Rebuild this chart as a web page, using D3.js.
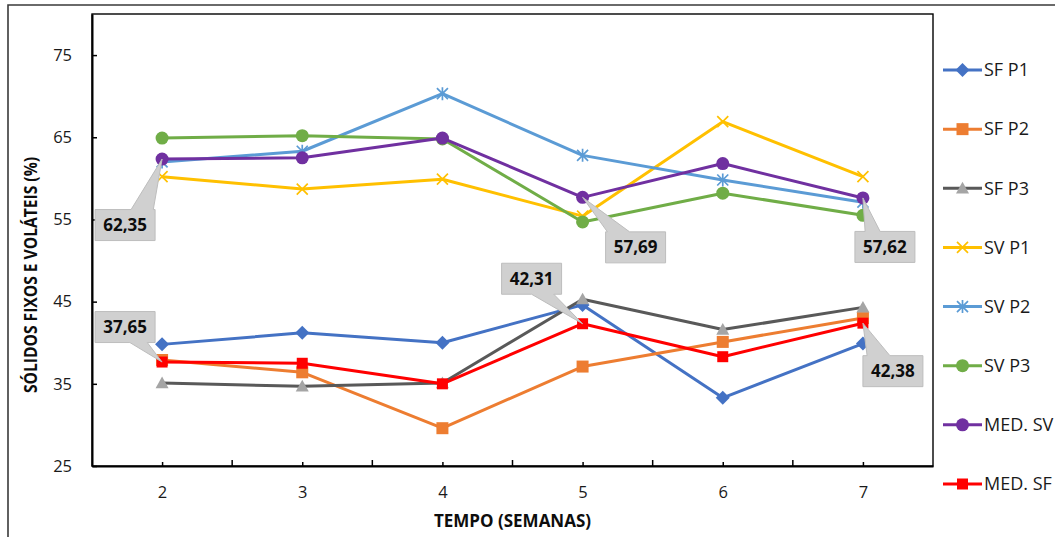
<!DOCTYPE html>
<html>
<head>
<meta charset="utf-8">
<script src="https://cdn.jsdelivr.net/npm/d3@7"></script>
<style>
    body { margin: 0; background: #fff; }
    svg { display: block; }
    text { font-family: "Open Sans", sans-serif; }
</style>
</head>
<body>
<svg id="chart" width="1055" height="537"></svg>
<script>
// values (weeks 2..7)
var weeks = ['2', '3', '4', '5', '6', '7'];
var seriesNames = ['SF P1', 'SF P2', 'SF P3', 'SV P1', 'SV P2', 'SV P3', 'MED. SV', 'MED. SF'];
var sfP1 = [39.8, 41.2, 40.0, 44.6, 33.3, 39.9];
var sfP2 = [37.9, 36.4, 29.6, 37.1, 40.1, 43.0];
var sfP3 = [35.1, 34.7, 35.1, 45.3, 41.6, 44.3];
var svP1 = [60.2, 58.7, 59.9, 55.4, 66.9, 60.2];
var svP2 = [62.0, 63.3, 70.3, 62.8, 59.8, 57.1];
var svP3 = [64.9, 65.2, 64.8, 54.7, 58.2, 55.5];
var medSV = [62.35, 62.5, 64.9, 57.69, 61.8, 57.62];
var medSF = [37.65, 37.5, 35.0, 42.31, 38.3, 42.38];
var yTicks = [25, 35, 45, 55, 65, 75];
var yTitle = 'SÓLIDOS FIXOS E VOLÁTEIS (%)';
var xTitle = 'TEMPO (SEMANAS)';
// which points get a data callout: [series, week]
var labelled = [['MED. SV', '2'], ['MED. SF', '2'], ['MED. SF', '5'],
                ['MED. SV', '5'], ['MED. SV', '7'], ['MED. SF', '7']];

var seriesValues = [sfP1, sfP2, sfP3, svP1, svP2, svP3, medSV, medSF];

// styles
var styles = {
    'SF P1':   {line: '#4472C4', fill: '#4472C4', marker: 'diamond', size: 7},
    'SF P2':   {line: '#ED7D31', fill: '#ED7D31', marker: 'square', size: 6},
    'SF P3':   {line: '#595959', fill: '#A5A5A5', marker: 'triangle', size: 6.5},
    'SV P1':   {line: '#FFC000', fill: '#FFC000', marker: 'x', size: 5.5},
    'SV P2':   {line: '#5B9BD5', fill: '#5B9BD5', marker: 'star', size: 5.5},
    'SV P3':   {line: '#70AD47', fill: '#70AD47', marker: 'circle', size: 6.5},
    'MED. SV': {line: '#7030A0', fill: '#7030A0', marker: 'circle', size: 6.5},
    'MED. SF': {line: '#FF0000', fill: '#FF0000', marker: 'square', size: 5.5}
};
// callout box offsets from the point, edge where the pointer leaves, pointer base as fraction of width
var calloutLayout = [
    {dx: -37, dy: 66, edge: 'top', base: [0.6, 0.97]},
    {dx: -37, dy: -35, edge: 'bottom', base: [0.58, 0.87]},
    {dx: -51, dy: -45, edge: 'bottom', base: [0.5, 0.87]},
    {dx: 53, dy: 50, edge: 'top', base: [0.03, 0.4]},
    {dx: 22, dy: 49, edge: 'top', base: [0.17, 0.42]},
    {dx: 30, dy: 48, edge: 'top', base: [0.07, 0.45]}
];

var svg = d3.select('#chart');
var pLeft = 92, pRight = 933, pTop = 14, pBottom = 466;

var x = d3.scalePoint().domain(weeks).range([pLeft, pRight]).padding(0.5);
var xBand = d3.scaleBand().domain(weeks).range([pLeft, pRight]);
var y = d3.scaleLinear().domain([25, 80]).range([pBottom, pTop]);

var commaFmt = d3.formatLocale({decimal: ',', thousands: '.', grouping: [3], currency: ['', '']}).format('.2f');

// outer frame of the figure
svg.append('path')
    .attr('d', 'M8,537V5H1055')
    .attr('fill', 'none')
    .attr('stroke', '#3a3a3a')
    .attr('stroke-width', 1.6);

// plot area box
svg.append('rect')
    .attr('x', pLeft).attr('y', pTop)
    .attr('width', pRight - pLeft).attr('height', pBottom - pTop)
    .attr('fill', 'none')
    .attr('stroke', '#000')
    .attr('stroke-width', 1.4);

// y axis
var yAxis = svg.append('g')
    .attr('transform', 'translate(' + pLeft + ',0)')
    .call(d3.axisLeft(y).tickValues(yTicks).tickSizeInner(-5).tickSizeOuter(0).tickPadding(20));
yAxis.select('.domain').attr('stroke', '#000').attr('stroke-width', 2);
yAxis.selectAll('.tick line').attr('stroke', '#000').attr('stroke-width', 1.5);
yAxis.selectAll('text').attr('font-size', 16.5).attr('fill', '#1a1a1a')
    .style('font-family', '"Open Sans", sans-serif');

// x axis: short ticks at categories, longer ticks at category boundaries
var xAxis = svg.append('g')
    .attr('transform', 'translate(0,' + pBottom + ')')
    .call(d3.axisBottom(x).tickSizeInner(-4).tickSizeOuter(0).tickPadding(20));
xAxis.select('.domain').attr('stroke', '#000').attr('stroke-width', 2);
xAxis.selectAll('.tick line').attr('stroke', '#000').attr('stroke-width', 1.5);
xAxis.selectAll('text').attr('font-size', 16.5).attr('fill', '#1a1a1a')
    .style('font-family', '"Open Sans", sans-serif');

var bounds = weeks.slice(1).map(function(w) { return xBand(w); });
svg.append('g').selectAll('line')
    .data(bounds)
    .enter()
    .append('line')
    .attr('x1', function(d) { return d; })
    .attr('x2', function(d) { return d; })
    .attr('y1', pBottom)
    .attr('y2', pBottom - 6)
    .attr('stroke', '#000')
    .attr('stroke-width', 1.5);

// axis titles
svg.append('text')
    .attr('x', (pLeft + pRight) / 2)
    .attr('y', 527)
    .attr('text-anchor', 'middle')
    .attr('font-size', 17)
    .attr('font-weight', 'bold')
    .attr('fill', '#0d0d0d')
    .text(xTitle);

svg.append('text')
    .attr('transform', 'translate(37,275) rotate(-90)')
    .attr('text-anchor', 'middle')
    .attr('font-size', 17)
    .attr('font-weight', 'bold')
    .attr('fill', '#0d0d0d')
    .attr('textLength', 236)
    .attr('lengthAdjust', 'spacingAndGlyphs')
    .text(yTitle);

// marker shapes
function markerPath(type, s) {
    if (type === 'diamond') return 'M0,' + (-s) + 'L' + s + ',0L0,' + s + 'L' + (-s) + ',0Z';
    if (type === 'square') return 'M' + (-s) + ',' + (-s) + 'H' + s + 'V' + s + 'H' + (-s) + 'Z';
    if (type === 'triangle') return 'M0,' + (-s) + 'L' + s + ',' + (s * 0.8) + 'H' + (-s) + 'Z';
    if (type === 'circle') return d3.symbol().type(d3.symbolCircle).size(Math.PI * s * s)();
    if (type === 'x') return 'M' + (-s) + ',' + (-s) + 'L' + s + ',' + s + 'M' + s + ',' + (-s) + 'L' + (-s) + ',' + s;
    if (type === 'star') return 'M' + (-s) + ',' + (-s) + 'L' + s + ',' + s + 'M' + s + ',' + (-s) + 'L' + (-s) + ',' + s + 'M0,' + (-s - 1) + 'V' + (s + 1);
}
function drawMarker(g, st, cx, cy) {
    var open = st.marker === 'x' || st.marker === 'star';
    g.append('path')
        .attr('d', markerPath(st.marker, st.size))
        .attr('transform', 'translate(' + cx + ',' + cy + ')')
        .attr('fill', open ? 'none' : st.fill)
        .attr('stroke', open ? st.fill : 'none')
        .attr('stroke-width', open ? 1.7 : 0);
}

var line = d3.line()
    .x(function(d, i) { return x(weeks[i]); })
    .y(function(d) { return y(d); });

// series, drawn in order so the means sit on top
seriesNames.forEach(function(name, k) {
    var st = styles[name];
    var g = svg.append('g');
    g.append('path')
        .datum(seriesValues[k])
        .attr('d', line)
        .attr('fill', 'none')
        .attr('stroke', st.line)
        .attr('stroke-width', 3)
        .attr('stroke-linejoin', 'round');
    seriesValues[k].forEach(function(v, i) {
        drawMarker(g, st, x(weeks[i]), y(v));
    });
});

// legend
var legendY = d3.scalePoint().domain(seriesNames).range([70, 484]);
seriesNames.forEach(function(name) {
    var st = styles[name];
    var g = svg.append('g');
    var ly = legendY(name);
    g.append('line')
        .attr('x1', 943).attr('x2', 982)
        .attr('y1', ly).attr('y2', ly)
        .attr('stroke', st.line)
        .attr('stroke-width', 3);
    drawMarker(g, st, 962.5, ly);
    g.append('text')
        .attr('x', 984)
        .attr('y', ly)
        .attr('dy', '0.35em')
        .attr('font-size', 18)
        .attr('fill', '#1a1a1a')
        .text(name);
});

// data callouts
var boxW = 60, boxH = 31;
labelled.forEach(function(lab, k) {
    var idx = weeks.indexOf(lab[1]);
    var v = seriesValues[seriesNames.indexOf(lab[0])][idx];
    var px = x(lab[1]), py = y(v);
    var L = calloutLayout[k];
    var cx = px + L.dx, cy = py + L.dy;
    var x0 = cx - boxW / 2, x1 = cx + boxW / 2, y0 = cy - boxH / 2, y1 = cy + boxH / 2;
    var b0 = x0 + L.base[0] * boxW, b1 = x0 + L.base[1] * boxW;
    var d;
    if (L.edge === 'top') {
        d = 'M' + x0 + ',' + y0 + 'L' + b0 + ',' + y0 + 'L' + px + ',' + py + 'L' + b1 + ',' + y0 +
            'L' + x1 + ',' + y0 + 'L' + x1 + ',' + y1 + 'L' + x0 + ',' + y1 + 'Z';
    } else {
        d = 'M' + x0 + ',' + y0 + 'L' + x1 + ',' + y0 + 'L' + x1 + ',' + y1 + 'L' + b1 + ',' + y1 +
            'L' + px + ',' + py + 'L' + b0 + ',' + y1 + 'L' + x0 + ',' + y1 + 'Z';
    }
    svg.append('path')
        .attr('d', d)
        .attr('fill', '#D0D0D0')
        .attr('stroke', '#BDBDBD')
        .attr('stroke-width', 1);
    svg.append('text')
        .attr('x', cx)
        .attr('y', cy)
        .attr('dy', '0.36em')
        .attr('text-anchor', 'middle')
        .attr('font-size', 17)
        .attr('font-weight', 'bold')
        .attr('fill', '#0d0d0d')
        .text(commaFmt(v));
});
</script>
</body>
</html>
